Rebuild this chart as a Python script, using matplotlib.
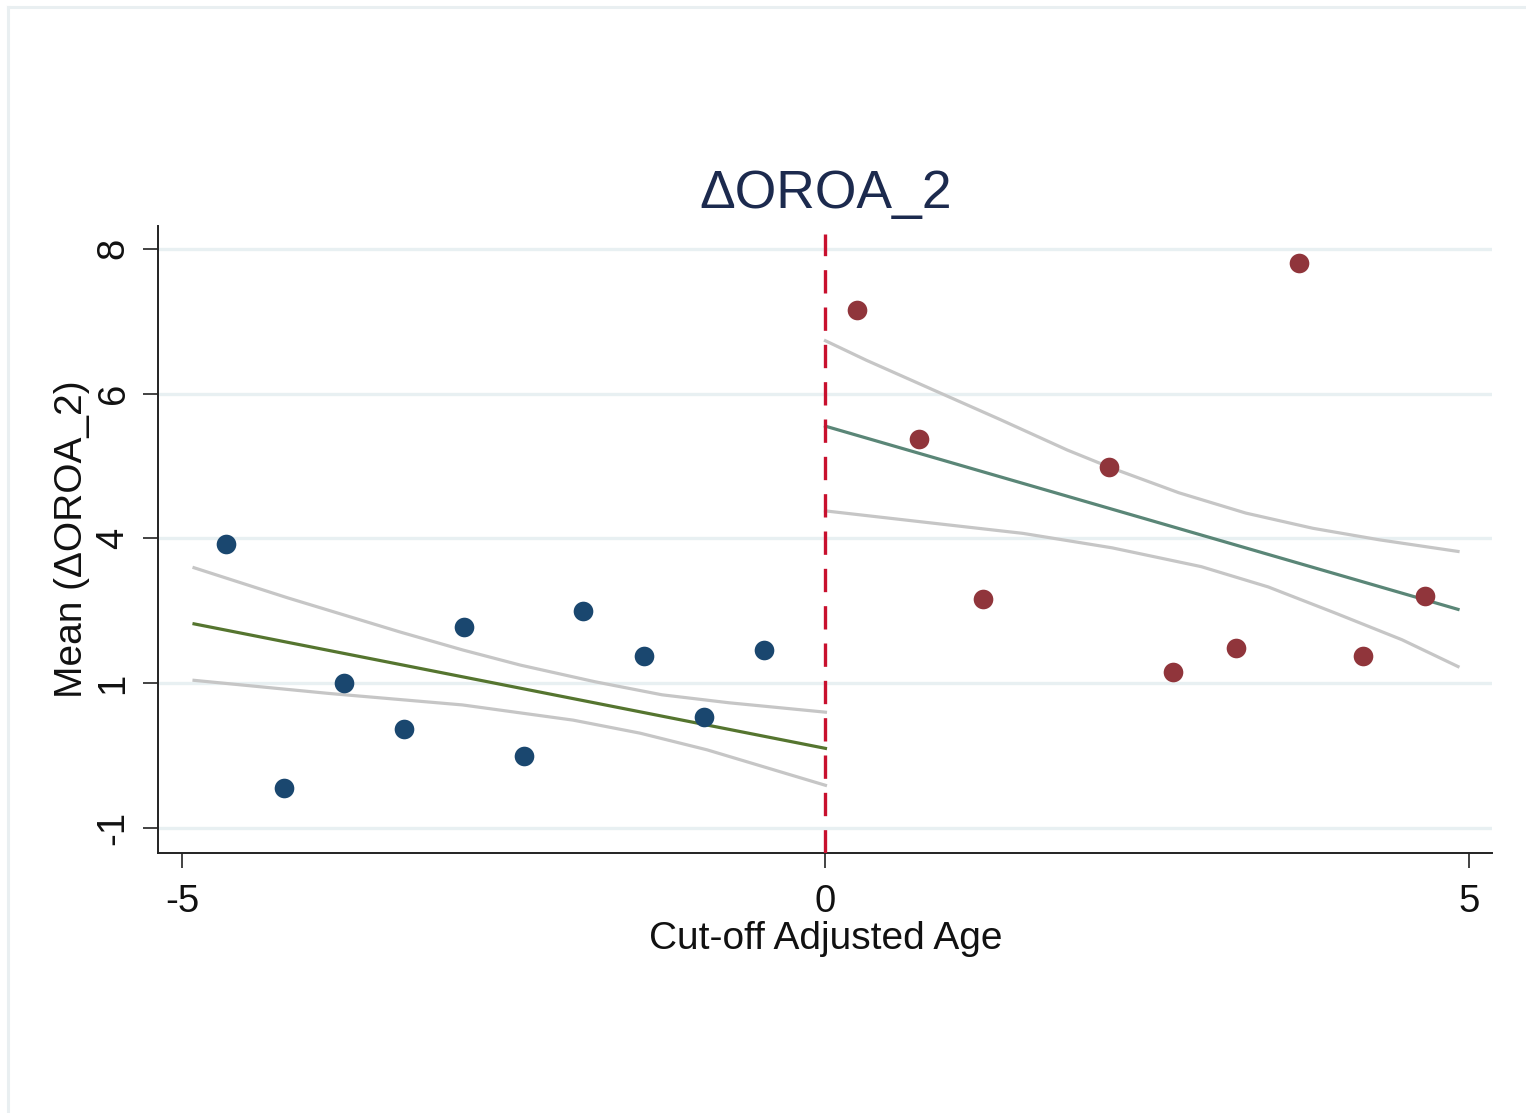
import matplotlib
matplotlib.use("Agg")
import matplotlib.pyplot as plt
from matplotlib.lines import Line2D

plt.rcParams["font.family"] = ["Liberation Sans", "DejaVu Sans"]

# Binned means left of the cut-off
left_x = [-4.66, -4.21, -3.74, -3.275, -2.81, -2.34, -1.88, -1.41, -0.94, -0.474]
left_y = [3.92, 0.55, 2.00, 1.37, 2.77, 1.00, 3.00, 2.38, 1.53, 2.46]

# Binned means right of the cut-off
right_x = [0.243, 0.728, 1.228, 2.20, 2.70, 3.19, 3.68, 4.18, 4.66]
right_y = [7.155, 5.37, 3.17, 4.99, 2.16, 2.48, 7.80, 2.37, 3.21]

# Linear fits (endpoints) on each side
left_fit_x = [-4.906, 0.0]
left_fit_y = [2.82, 1.10]
right_fit_x = [0.0, 4.915]
right_fit_y = [5.55, 3.02]

# 95% confidence bands
left_hi_x = [-4.906, -4.18, -3.31, -2.82, -2.37, -1.79, -1.27, -0.75, 0.0]
left_hi_y = [3.595, 3.18, 2.71, 2.46, 2.25, 2.02, 1.84, 1.73, 1.60]
left_lo_x = [-4.906, -3.865, -2.82, -1.96, -1.44, -0.92, 0.0]
left_lo_y = [2.04, 1.86, 1.70, 1.49, 1.31, 1.08, 0.59]
right_hi_x = [0.0, 0.319, 0.839, 1.36, 1.88, 2.227, 2.747, 3.266, 3.787, 4.306, 4.915]
right_hi_y = [6.73, 6.46, 6.05, 5.64, 5.22, 4.97, 4.63, 4.35, 4.14, 3.98, 3.82]
right_lo_x = [0.0, 0.839, 1.533, 2.227, 2.92, 3.44, 3.96, 4.48, 4.915]
right_lo_y = [4.38, 4.21, 4.07, 3.87, 3.61, 3.33, 2.97, 2.60, 2.23]

cutoff = 0.0
x_ticks = [-5, 0, 5]
y_tick_pos = [0, 2, 4, 6, 8]
y_tick_labels = ["-1", "1", "4", "6", "8"]

W, H = 1526, 1113
fig = plt.figure(figsize=(W / 100, H / 100), dpi=100)
fig.patch.set_facecolor("white")

# light frame along the top and left edges
frame_col = "#e9eff1"
fig.add_artist(Line2D([8 / W, 8 / W], [0, 1 - 7 / H], transform=fig.transFigure,
                      color=frame_col, lw=2.2))
fig.add_artist(Line2D([8 / W, 1], [1 - 7 / H, 1 - 7 / H], transform=fig.transFigure,
                      color=frame_col, lw=2.2))

ax_l, ax_r, ax_t, ax_b = 158, 1492, 226, 853
ax = fig.add_axes([ax_l / W, 1 - ax_b / H, (ax_r - ax_l) / W, (ax_b - ax_t) / H])
ax.set_facecolor("white")

ax.set_xlim(-5.186, 5.179)
ax.set_ylim(-0.345, 8.315)

# gridlines
for yp in y_tick_pos:
    ax.axhline(yp, color="#e8f0f2", lw=2.4, zorder=0)

ci_col = "#c6c6c6"
ax.plot(left_hi_x, left_hi_y, color=ci_col, lw=2.3, zorder=2)
ax.plot(left_lo_x, left_lo_y, color=ci_col, lw=2.3, zorder=2)
ax.plot(right_hi_x, right_hi_y, color=ci_col, lw=2.3, zorder=2)
ax.plot(right_lo_x, right_lo_y, color=ci_col, lw=2.3, zorder=2)

ax.plot(left_fit_x, left_fit_y, color="#55752f", lw=2.3, zorder=3)
ax.plot(right_fit_x, right_fit_y, color="#5a8677", lw=2.3, zorder=3)

ax.scatter(left_x, left_y, s=200, color="#1a476f", zorder=4, linewidths=0)
ax.scatter(right_x, right_y, s=200, color="#90353b", zorder=4, linewidths=0)

ax.plot([cutoff, cutoff], [-0.345, 8.2], color="#c8102e", lw=2.4,
        dashes=(7, 4.2), zorder=5)

for s in ["top", "right"]:
    ax.spines[s].set_visible(False)
for s in ["left", "bottom"]:
    ax.spines[s].set_color("#222222")
    ax.spines[s].set_linewidth(1.4)

ax.set_xticks(x_ticks)
ax.set_xticklabels([str(v) for v in x_ticks])
ax.set_yticks(y_tick_pos)
ax.set_yticklabels(y_tick_labels, rotation=90, va="center")
ax.tick_params(axis="both", length=11, width=1.2, color="#222222",
               labelsize=27.5, labelcolor="#111111")
ax.tick_params(axis="x", pad=11)
ax.tick_params(axis="y", pad=8)

fig.text(72 / W, 1 - 539 / H, "Mean (\u0394OROA_2)", rotation=90,
         ha="center", va="center", fontsize=28, color="#111111")
fig.text(826 / W, 1 - 949 / H, "Cut-off Adjusted Age", ha="center",
         va="baseline", fontsize=28, color="#111111")
fig.text(826 / W, 1 - 208 / H, "\u0394OROA_2", ha="center", va="baseline",
         fontsize=38.5, color="#1c2a4e")

fig.savefig("out.png", dpi=100, facecolor="white")
